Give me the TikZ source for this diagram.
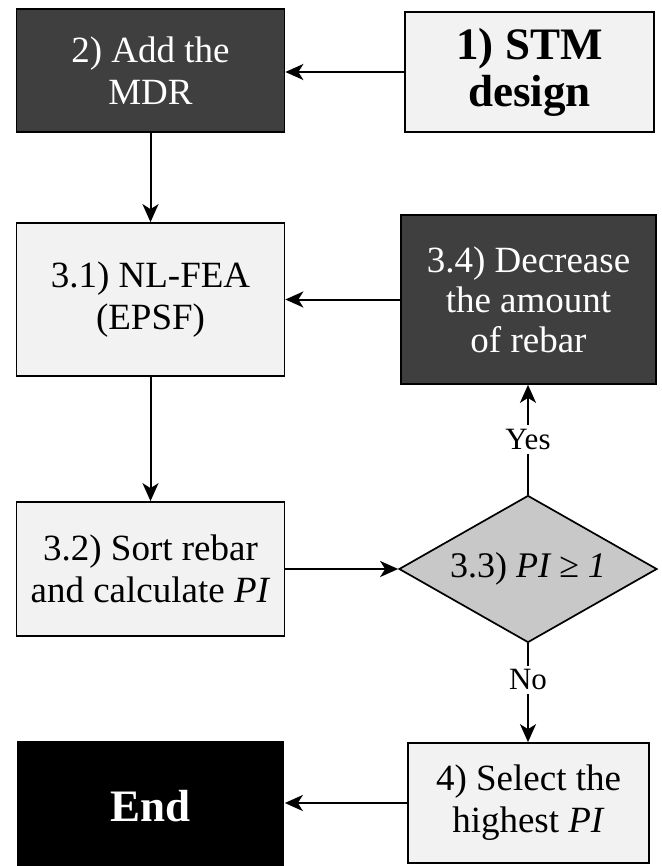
\documentclass[tikz,border=0pt]{standalone}
\usepackage{fontspec}
\setmainfont{Liberation Serif}
\usetikzlibrary{arrows.meta,shapes.geometric}

\definecolor{lightfill}{HTML}{F2F2F2}
\definecolor{darkfill}{HTML}{3F3F3F}
\definecolor{decfill}{HTML}{C8C8C8}

\begin{document}
\begin{tikzpicture}[x=1pt,y=-1pt,
  base/.style={draw=black,line width=1.7pt,inner sep=0pt,align=center,
    font=\fontsize{37}{42}\selectfont},
  lightbox/.style={base,fill=lightfill,text=black},
  darkbox/.style={base,fill=darkfill,text=white},
  boldtext/.style={font=\fontsize{45}{47}\selectfont\bfseries},
  endbox/.style={base,fill=black,text=white,draw=none,boldtext},
  decision/.style={base,diamond,fill=decfill,aspect=1.75,
    font=\fontsize{36}{40}\selectfont},
  flow/.style={line width=2pt,-{Stealth[length=18pt,width=16pt,inset=5pt]}},
  answer/.style={fill=white,inner sep=4pt,font=\fontsize{31}{34}\selectfont}
]
\useasboundingbox (0,0) rectangle (661,866);

% process boxes
\node[darkbox,minimum width=268pt,minimum height=123pt] (mdr) at (150.5,70.5) {2) Add the\\MDR};
\node[lightbox,boldtext,minimum width=249pt,minimum height=120pt] (stm) at (529.5,72) {1) STM\\design};
\node[lightbox,minimum width=268pt,minimum height=153pt] (fea) at (150.5,299.5) {3.1) NL-FEA\\(EPSF)};
\node[darkbox,font=\fontsize{37}{40}\selectfont,minimum width=255pt,minimum height=169pt] (dec) at (528.5,299.5) {3.4) Decrease\\the amount\\of rebar};
\node[lightbox,minimum width=268pt,minimum height=134pt] (sort) at (150.5,569) {3.2) Sort rebar\\and calculate \textit{PI}};
\node[decision,minimum width=258pt,minimum height=147pt] (pi) at (528,569) {3.3) \textit{PI ≥ 1}};
\node[lightbox,minimum width=241pt,minimum height=120pt] (sel) at (528.5,803) {4) Select the\\highest \textit{PI}};
\node[endbox,minimum width=267pt,minimum height=130pt] (end) at (150.5,806) {End};

% connectors
\draw[flow] (stm.west) -- (stm.west -| mdr.east);
\draw[flow] (mdr.south) -- (fea.north);
\draw[flow] (dec.west) -- (dec.west -| fea.east);
\draw[flow] (fea.south) -- (sort.north);
\draw[flow] (sort.east) -- (pi.west);
\draw[flow] (pi.north) -- node[answer] {Yes} (pi.north |- dec.south);
\draw[flow] (pi.south) -- node[answer,pos=0.37] {No} (pi.south |- sel.north);
\draw[flow] (sel.west) -- (sel.west -| end.east);
\end{tikzpicture}
\end{document}
